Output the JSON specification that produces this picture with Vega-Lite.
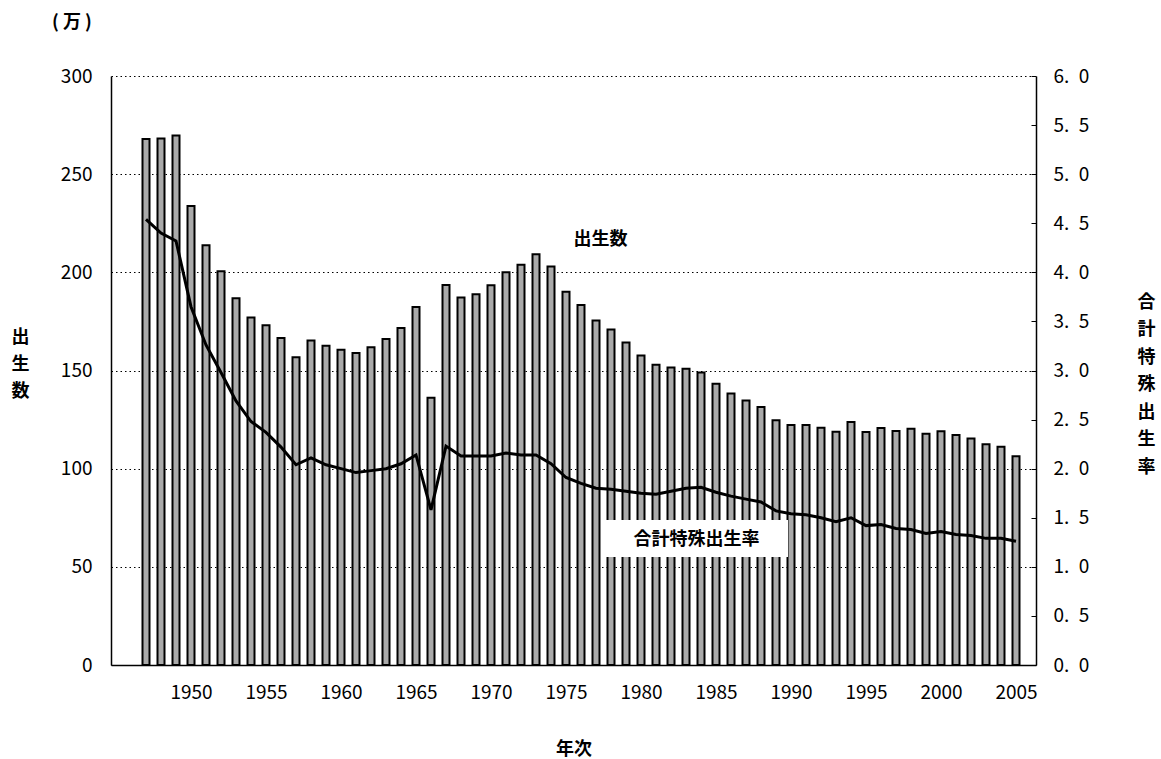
{
  "$schema": "https://vega.github.io/schema/vega-lite/v6.json",
  "width": 925,
  "height": 589,
  "autosize": {"type": "none"},
  "padding": {"left": 111, "top": 76, "right": 125, "bottom": 94},
  "background": "#ffffff",
  "config": {
    "view": {"stroke": null},
    "font": "Noto Sans CJK JP",
    "axis": {"labelFont": "Noto Sans CJK JP", "titleFont": "Noto Sans CJK JP", "labelColor": "#000", "titleColor": "#000", "domainColor": "#000", "tickColor": "#000", "domainWidth": 1.5}
  },
  "title": {"text": "( 万 )", "anchor": "start", "frame": "group", "dx": -59, "fontSize": 18, "fontWeight": "bold", "font": "Noto Sans CJK JP", "color": "#000", "offset": 35},
  "datasets": {
    "main": [
      {"year": 1947, "births": 267.9, "tfr": 4.54},
      {"year": 1948, "births": 268.2, "tfr": 4.40},
      {"year": 1949, "births": 269.7, "tfr": 4.32},
      {"year": 1950, "births": 233.8, "tfr": 3.65},
      {"year": 1951, "births": 213.8, "tfr": 3.26},
      {"year": 1952, "births": 200.5, "tfr": 2.98},
      {"year": 1953, "births": 186.8, "tfr": 2.69},
      {"year": 1954, "births": 177.0, "tfr": 2.48},
      {"year": 1955, "births": 173.1, "tfr": 2.37},
      {"year": 1956, "births": 166.5, "tfr": 2.22},
      {"year": 1957, "births": 156.7, "tfr": 2.04},
      {"year": 1958, "births": 165.3, "tfr": 2.11},
      {"year": 1959, "births": 162.6, "tfr": 2.04},
      {"year": 1960, "births": 160.6, "tfr": 2.00},
      {"year": 1961, "births": 158.9, "tfr": 1.96},
      {"year": 1962, "births": 161.9, "tfr": 1.98},
      {"year": 1963, "births": 166.0, "tfr": 2.00},
      {"year": 1964, "births": 171.7, "tfr": 2.05},
      {"year": 1965, "births": 182.4, "tfr": 2.14},
      {"year": 1966, "births": 136.1, "tfr": 1.58},
      {"year": 1967, "births": 193.5, "tfr": 2.23},
      {"year": 1968, "births": 187.2, "tfr": 2.13},
      {"year": 1969, "births": 188.9, "tfr": 2.13},
      {"year": 1970, "births": 193.4, "tfr": 2.13},
      {"year": 1971, "births": 200.1, "tfr": 2.16},
      {"year": 1972, "births": 203.9, "tfr": 2.14},
      {"year": 1973, "births": 209.2, "tfr": 2.14},
      {"year": 1974, "births": 203.0, "tfr": 2.05},
      {"year": 1975, "births": 190.1, "tfr": 1.91},
      {"year": 1976, "births": 183.3, "tfr": 1.85},
      {"year": 1977, "births": 175.5, "tfr": 1.80},
      {"year": 1978, "births": 170.9, "tfr": 1.79},
      {"year": 1979, "births": 164.3, "tfr": 1.77},
      {"year": 1980, "births": 157.7, "tfr": 1.75},
      {"year": 1981, "births": 152.9, "tfr": 1.74},
      {"year": 1982, "births": 151.5, "tfr": 1.77},
      {"year": 1983, "births": 150.9, "tfr": 1.80},
      {"year": 1984, "births": 149.0, "tfr": 1.81},
      {"year": 1985, "births": 143.2, "tfr": 1.76},
      {"year": 1986, "births": 138.3, "tfr": 1.72},
      {"year": 1987, "births": 134.7, "tfr": 1.69},
      {"year": 1988, "births": 131.4, "tfr": 1.66},
      {"year": 1989, "births": 124.7, "tfr": 1.57},
      {"year": 1990, "births": 122.2, "tfr": 1.54},
      {"year": 1991, "births": 122.3, "tfr": 1.53},
      {"year": 1992, "births": 120.9, "tfr": 1.50},
      {"year": 1993, "births": 118.8, "tfr": 1.46},
      {"year": 1994, "births": 123.8, "tfr": 1.50},
      {"year": 1995, "births": 118.7, "tfr": 1.42},
      {"year": 1996, "births": 120.7, "tfr": 1.43},
      {"year": 1997, "births": 119.2, "tfr": 1.39},
      {"year": 1998, "births": 120.3, "tfr": 1.38},
      {"year": 1999, "births": 117.8, "tfr": 1.34},
      {"year": 2000, "births": 119.1, "tfr": 1.36},
      {"year": 2001, "births": 117.1, "tfr": 1.33},
      {"year": 2002, "births": 115.4, "tfr": 1.32},
      {"year": 2003, "births": 112.4, "tfr": 1.29},
      {"year": 2004, "births": 111.1, "tfr": 1.29},
      {"year": 2005, "births": 106.3, "tfr": 1.26}
    ],
    "labels": [
      {"year": 1977.3, "births": 216.5, "label": "出生数"},
      {"year": 1983.7, "births": 63.7, "label": "合計特殊出生率"}
    ],
    "box": [
      {"year": 1977.45, "year2": 1989.8, "births": 73.9, "births2": 55.0}
    ]
  },
  "layer": [
    {
      "layer": [
        {
          "data": {"name": "main"},
          "mark": {"type": "bar", "width": 7, "fill": "#aaaaaa", "stroke": "#000", "strokeWidth": 2},
          "encoding": {
            "x": {"field": "year", "type": "quantitative", "scale": {"domain": [1945, 2006], "nice": false, "zero": false},
                  "axis": {"values": [1950, 1955, 1960, 1965, 1970, 1975, 1980, 1985, 1990, 1995, 2000, 2005], "format": "d", "grid": false, "ticks": false, "labelFontSize": 19, "labelPadding": 18, "labelFlush": false, "title": "年次", "titleFontSize": 18, "titleFontWeight": "bold", "titlePadding": 38}},
            "y": {"field": "births", "type": "quantitative", "scale": {"domain": [0, 300], "nice": false},
                  "axis": {"values": [0, 50, 100, 150, 200, 250, 300], "grid": true, "gridDash": [1.5, 3], "gridColor": "#000", "gridWidth": 1, "ticks": false, "labelFontSize": 19, "labelPadding": 19,
                           "title": ["出", "生", "数"], "titleAngle": 0, "titleFontSize": 18, "titleFontWeight": "bold", "titleAlign": "center", "titleBaseline": "middle", "titleLineHeight": 27, "titleX": -91, "titleY": 261}}
          }
        },
        {
          "data": {"name": "box"},
          "mark": {"type": "rect", "fill": "#ffffff", "stroke": null},
          "encoding": {
            "x": {"field": "year", "type": "quantitative", "title": "年次"},
            "x2": {"field": "year2"},
            "y": {"field": "births", "type": "quantitative", "title": ["出", "生", "数"]},
            "y2": {"field": "births2"}
          }
        },
        {
          "data": {"name": "labels"},
          "mark": {"type": "text", "fontSize": 18, "fontWeight": "bold", "font": "Noto Sans CJK JP", "color": "#000", "align": "center", "baseline": "middle"},
          "encoding": {
            "x": {"field": "year", "type": "quantitative", "title": "年次"},
            "y": {"field": "births", "type": "quantitative", "title": ["出", "生", "数"]},
            "text": {"field": "label"}
          }
        }
      ]
    },
    {
      "data": {"name": "main"},
      "mark": {"type": "line", "color": "#000", "strokeWidth": 3},
      "encoding": {
        "x": {"field": "year", "type": "quantitative", "title": "年次"},
        "y": {"field": "tfr", "type": "quantitative", "scale": {"domain": [0, 6], "nice": false},
              "axis": {"orient": "right", "values": [0, 0.5, 1, 1.5, 2, 2.5, 3, 3.5, 4, 4.5, 5, 5.5, 6], "grid": false, "tickSize": -5, "labelFontSize": 19, "labelPadding": 22,
                       "labelExpr": "replace(format(datum.value, '.1f'), '.', '.\u2002')",
                       "title": ["合", "計", "特", "殊", "出", "生", "率"], "titleAngle": 0, "titleFontSize": 18, "titleFontWeight": "bold", "titleAlign": "center", "titleBaseline": "middle", "titleLineHeight": 27.5, "titleX": 110, "titleY": 226}}
      }
    }
  ],
  "resolve": {"scale": {"y": "independent"}}
}
